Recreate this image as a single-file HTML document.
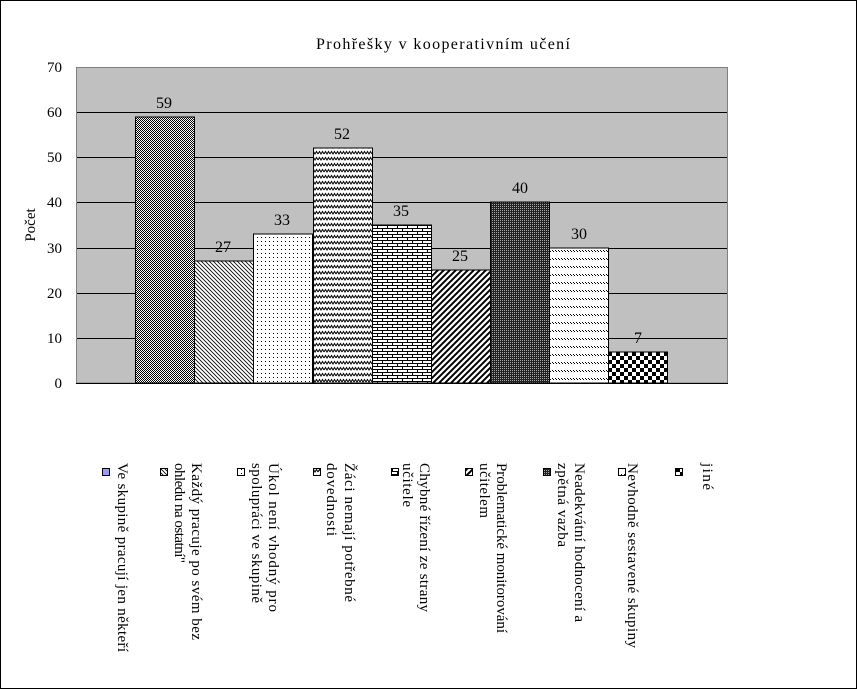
<!DOCTYPE html>
<html><head><meta charset="utf-8"><style>
html,body{margin:0;padding:0;background:#fff}
svg{display:block}
text{font-family:"Liberation Serif",serif;fill:#000}
</style></head><body>
<svg width="857" height="689" viewBox="0 0 857 689" xmlns="http://www.w3.org/2000/svg">
<defs>
<pattern id="p1" width="2" height="2" patternUnits="userSpaceOnUse"><rect width="2" height="2" fill="#fff"/><rect width="1" height="1" fill="#000"/><rect x="1" y="1" width="1" height="1" fill="#000"/></pattern>
<pattern id="p2" width="4" height="4" patternUnits="userSpaceOnUse"><rect width="4" height="4" fill="#fff"/><path d="M0,0L4,4M-1,3L1,5M3,-1L5,1" stroke="#000" stroke-width="0.8"/></pattern>
<pattern id="p3" width="4" height="4" patternUnits="userSpaceOnUse"><rect width="4" height="4" fill="#fff"/><rect x="1" y="1" width="1" height="1" fill="#000"/></pattern>
<pattern id="p4" width="6" height="6" patternUnits="userSpaceOnUse"><rect width="6" height="6" fill="#fff"/><path d="M0,4L1.5,1.5L3,4L4.5,1.5L6,4" fill="none" stroke="#000" stroke-width="1"/></pattern>
<pattern id="p5" width="10" height="6" patternUnits="userSpaceOnUse"><rect width="10" height="6" fill="#fff"/><path d="M0,0.5H10M0,3.5H10M2.5,0V3M7.5,3V6" stroke="#000" stroke-width="1"/></pattern>
<pattern id="p6" width="6" height="6" patternUnits="userSpaceOnUse"><rect width="6" height="6" fill="#fff"/><path d="M-1,7L7,-1M-4,4L4,-4M2,10L10,2" stroke="#000" stroke-width="2"/></pattern>
<pattern id="p7" width="2" height="2" patternUnits="userSpaceOnUse"><rect width="2" height="2" fill="#222"/><rect width="1" height="1" fill="#aaa"/></pattern>
<pattern id="p8" width="6" height="8" patternUnits="userSpaceOnUse"><rect width="6" height="8" fill="#fff"/><rect x="0" y="2" width="1" height="1" fill="#000"/><rect x="1" y="3" width="1" height="1" fill="#000"/><rect x="3" y="2" width="1" height="1" fill="#000"/><rect x="4" y="3" width="1" height="1" fill="#000"/></pattern>
<pattern id="p9" width="8" height="8" patternUnits="userSpaceOnUse"><rect width="8" height="8" fill="#fff"/><rect width="4" height="4" fill="#000"/><rect x="4" y="4" width="4" height="4" fill="#000"/></pattern>
</defs>
<rect x="0.5" y="0.5" width="856" height="688" fill="#fff" stroke="#000"/>
<text x="316" y="49" font-size="16" textLength="254" lengthAdjust="spacing">Prohřešky v kooperativním  učení</text>
<rect x="76" y="67" width="652" height="316" fill="#c0c0c0"/>
<g stroke="#000" stroke-width="1">
<line x1="76" y1="112.5" x2="728" y2="112.5"/>
<line x1="76" y1="157.5" x2="728" y2="157.5"/>
<line x1="76" y1="202.5" x2="728" y2="202.5"/>
<line x1="76" y1="248.5" x2="728" y2="248.5"/>
<line x1="76" y1="293.5" x2="728" y2="293.5"/>
<line x1="76" y1="338.5" x2="728" y2="338.5"/>
</g>
<rect x="76.5" y="67.5" width="651" height="315.5" fill="none" stroke="#808080"/>
<g font-size="15" text-anchor="end">
<text x="62" y="72">70</text><text x="62" y="117">60</text><text x="62" y="162">50</text><text x="62" y="207">40</text><text x="62" y="253">30</text><text x="62" y="298">20</text><text x="62" y="343">10</text><text x="62" y="388">0</text>
</g>
<text transform="translate(35,225) rotate(-90)" font-size="15" text-anchor="middle">Počet</text>
<g stroke="#000" stroke-width="1">
<rect x="135.5" y="117" width="59" height="266" fill="url(#p1)"/>
<rect x="194.5" y="261" width="59" height="122" fill="url(#p2)"/>
<rect x="253.5" y="234" width="59" height="149" fill="url(#p3)"/>
<rect x="313.5" y="148" width="59" height="235" fill="url(#p4)"/>
<rect x="372.5" y="225" width="59" height="158" fill="url(#p5)"/>
<rect x="431.5" y="270" width="59" height="113" fill="url(#p6)"/>
<rect x="490.5" y="202" width="59" height="181" fill="url(#p7)"/>
<rect x="549.5" y="248" width="59" height="135" fill="url(#p8)"/>
<rect x="608.5" y="352" width="59" height="31" fill="url(#p9)"/>
</g>
<line x1="76" y1="383.5" x2="728" y2="383.5" stroke="#000"/>
<g font-size="16" text-anchor="middle">
<text x="164" y="108">59</text><text x="223" y="252">27</text><text x="282" y="225">33</text><text x="342" y="139">52</text><text x="401" y="216">35</text><text x="460" y="261">25</text><text x="520" y="193">40</text><text x="579" y="239">30</text><text x="638" y="343">7</text>
</g>
<g stroke="#000" stroke-width="1">
<rect x="102.5" y="468.5" width="7" height="7" fill="#9999ff"/>
<rect x="160.5" y="468.5" width="7" height="7" fill="url(#p2)"/>
<rect x="237.5" y="468.5" width="7" height="7" fill="url(#p3)"/>
<rect x="313.5" y="468.5" width="7" height="7" fill="url(#p4)"/>
<rect x="391.5" y="468.5" width="7" height="7" fill="url(#p5)"/>
<rect x="465.5" y="468.5" width="7" height="7" fill="url(#p6)"/>
<rect x="543.5" y="468.5" width="7" height="7" fill="url(#p7)"/>
<rect x="618.5" y="468.5" width="7" height="7" fill="url(#p8)"/>
<rect x="675.5" y="468.5" width="7" height="7" fill="url(#p9)"/>
</g>
<g font-size="15">
<text transform="translate(118,463) rotate(90)" textLength="189" lengthAdjust="spacing">Ve skupině pracují jen někteří</text>
<text transform="translate(192,463) rotate(90)" textLength="177" lengthAdjust="spacing">Každý pracuje po svém bez</text>
<text transform="translate(175,463) rotate(90)" textLength="100" lengthAdjust="spacing">ohledu na ostatní"</text>
<text transform="translate(269,463) rotate(90)" textLength="149" lengthAdjust="spacing">Úkol není vhodný pro</text>
<text transform="translate(252,463) rotate(90)" textLength="140" lengthAdjust="spacing">spolupráci ve skupině</text>
<text transform="translate(345,463) rotate(90)" textLength="139" lengthAdjust="spacing">Žáci nemají potřebné</text>
<text transform="translate(327,463) rotate(90)" textLength="73" lengthAdjust="spacing">dovednosti</text>
<text transform="translate(420,463) rotate(90)" textLength="149" lengthAdjust="spacing">Chybné řízení ze strany</text>
<text transform="translate(403,463) rotate(90)" textLength="44" lengthAdjust="spacing">učitele</text>
<text transform="translate(497,463) rotate(90)" textLength="170" lengthAdjust="spacing">Problematické monitorování</text>
<text transform="translate(480,463) rotate(90)" textLength="55" lengthAdjust="spacing">učitelem</text>
<text transform="translate(575,463) rotate(90)" textLength="159" lengthAdjust="spacing">Neadekvátní hodnocení a</text>
<text transform="translate(558,463) rotate(90)" textLength="84" lengthAdjust="spacing">zpětná vazba</text>
<text transform="translate(628,463) rotate(90)" textLength="185" lengthAdjust="spacing">Nevhodně sestavené skupiny</text>
<text transform="translate(703,463) rotate(90)" textLength="27" lengthAdjust="spacing">jiné</text>
</g>
</svg>
</body></html>
